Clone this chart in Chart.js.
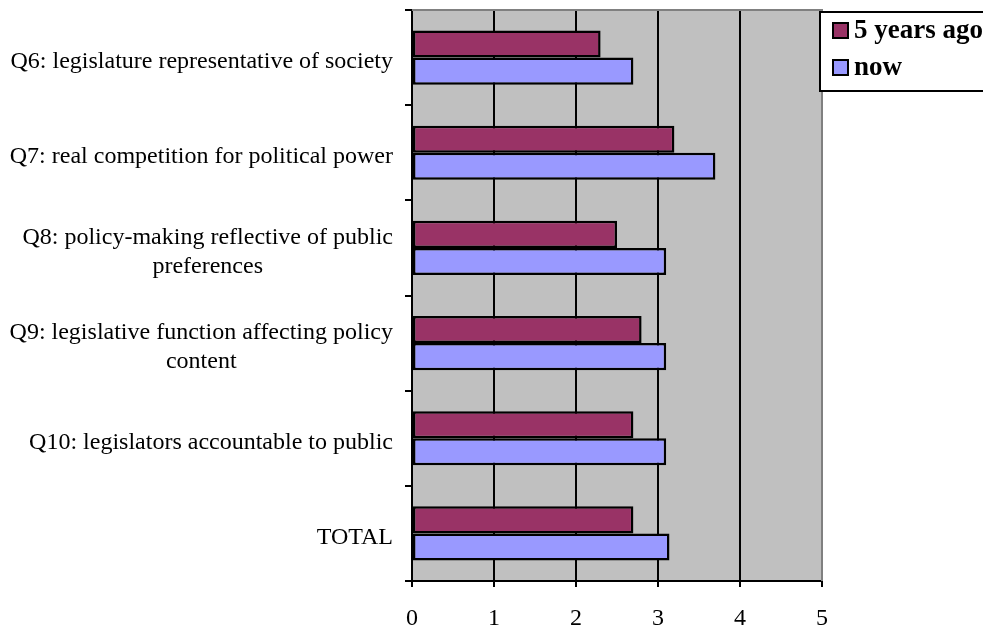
<!DOCTYPE html>
<html>
<head>
<meta charset="utf-8">
<script src="https://cdn.jsdelivr.net/npm/chart.js@4/dist/chart.umd.min.js"></script>
<style>
  html, body { margin: 0; padding: 0; background: #ffffff; }
  #wrap { width: 983px; height: 630px; position: relative; }
</style>
</head>
<body>
<div id="wrap"><canvas id="chart" width="983" height="630"></canvas></div>
<script>
// Survey questions (multi-line where the label wraps)
const categories = [
  ["Q6: legislature representative of society"],
  ["Q7: real competition for political power"],
  ["Q8: policy-making reflective of public", "preferences"],
  ["Q9: legislative function affecting policy", "content"],
  ["Q10: legislators accountable to public"],
  ["TOTAL"]
];
const seriesNames = ["5 years ago", "now"];
const fiveYearsAgo = [2.3, 3.2, 2.5, 2.8, 2.7, 2.7];
const nowScores = [2.7, 3.7, 3.1, 3.1, 3.1, 3.14];
const xTicks = [0, 1, 2, 3, 4, 5];

const SERIF = '"Liberation Serif", "Times New Roman", serif';
const colors = ["#993366", "#9999ff"];

// Grey plot background plus the grey top/right frame
const plotFrame = {
  id: 'plotFrame',
  beforeDraw(chart) {
    const a = chart.chartArea, c = chart.ctx;
    c.save();
    c.fillStyle = '#c0c0c0';
    c.fillRect(a.left, a.top, a.right - a.left, a.bottom - a.top);
    c.restore();
  },
  beforeDatasetsDraw(chart) {
    const a = chart.chartArea, c = chart.ctx;
    c.save();
    c.strokeStyle = '#808080';
    c.lineWidth = 2;
    c.beginPath();
    c.moveTo(a.left, a.top);
    c.lineTo(a.right, a.top);
    c.lineTo(a.right, a.bottom);
    c.stroke();
    c.restore();
  }
};

// Category labels: right-aligned block, lines centred on each other
const categoryLabels = {
  id: 'categoryLabels',
  afterDraw(chart) {
    const y = chart.scales.y, c = chart.ctx;
    c.save();
    c.font = '24px ' + SERIF;
    c.fillStyle = '#000';
    c.textAlign = 'center';
    c.textBaseline = 'middle';
    const right = 393, lh = 29;
    chart.data.labels.forEach((lines, i) => {
      const cy = y.getPixelForValue(i) + 4;
      const w = Math.max(...lines.map(l => c.measureText(l).width));
      const cx = right - w / 2;
      const y0 = cy - (lines.length - 1) * lh / 2;
      lines.forEach((l, k) => c.fillText(l, cx, y0 + k * lh));
    });
    c.restore();
  }
};

// Boxed legend at the top right
const boxLegend = {
  id: 'boxLegend',
  afterDraw(chart) {
    const c = chart.ctx;
    c.save();
    c.fillStyle = '#fff';
    c.fillRect(820, 12, 170, 79);
    c.strokeStyle = '#000';
    c.lineWidth = 2;
    c.strokeRect(820, 12, 170, 79);
    c.font = 'bold 27px ' + SERIF;
    c.textBaseline = 'alphabetic';
    c.textAlign = 'left';
    chart.data.datasets.forEach((ds, i) => {
      const base = 38 + i * 37;
      c.fillStyle = ds.backgroundColor;
      c.fillRect(833, base - 15, 15, 15);
      c.strokeRect(833, base - 15, 15, 15);
      c.fillStyle = '#000';
      c.fillText(ds.label, 854, base);
    });
    c.restore();
  }
};

new Chart(document.getElementById('chart'), {
  type: 'bar',
  data: {
    labels: categories,
    datasets: [
      { label: seriesNames[0], data: fiveYearsAgo, backgroundColor: colors[0] },
      { label: seriesNames[1], data: nowScores, backgroundColor: colors[1] }
    ]
  },
  options: {
    indexAxis: 'y',
    responsive: false,
    animation: false,
    devicePixelRatio: 1,
    layout: { padding: { top: 10, right: 161, left: 0, bottom: 0 } },
    datasets: {
      bar: {
        borderColor: '#000',
        borderWidth: 2.5,
        borderSkipped: false,
        categoryPercentage: 0.57,
        barPercentage: 1
      }
    },
    plugins: {
      legend: { display: false },
      tooltip: { enabled: false }
    },
    scales: {
      x: {
        min: 0, max: 5,
        afterBuildTicks(scale) { scale.ticks = xTicks.map(v => ({ value: v })); },
        afterFit(scale) { scale.height = 49; },
        border: { color: '#000', width: 2 },
        grid: {
          color: ctx => (ctx.tick && ctx.tick.value === 5) ? '#808080' : '#000',
          tickColor: '#000',
          lineWidth: 2,
          tickLength: 6
        },
        ticks: {
          color: '#000',
          font: { family: SERIF, size: 24 },
          padding: 17,
          maxRotation: 0
        }
      },
      y: {
        afterFit(scale) { scale.width = 412; },
        border: { color: '#000', width: 2 },
        grid: {
          offset: true,
          drawOnChartArea: false,
          color: '#000',
          lineWidth: 2,
          tickLength: 7
        },
        ticks: { display: false }
      }
    }
  },
  plugins: [plotFrame, categoryLabels, boxLegend]
});
</script>
</body>
</html>
